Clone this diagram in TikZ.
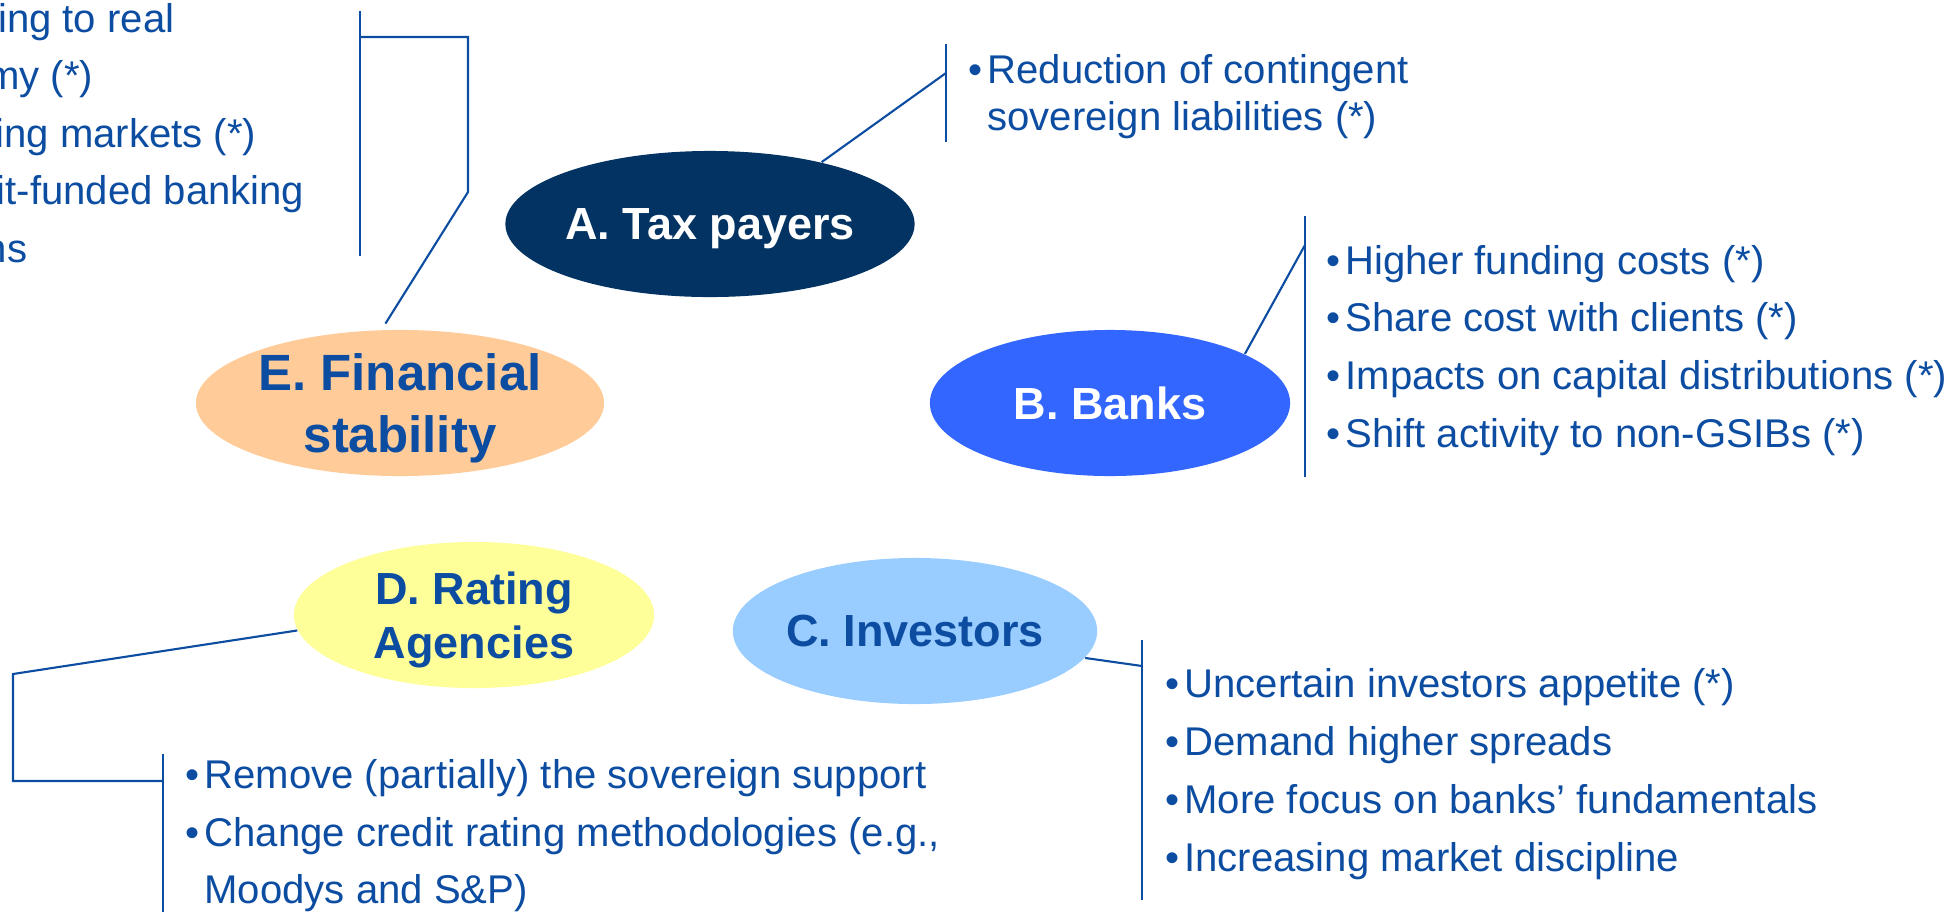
\documentclass[tikz,border=0pt]{standalone}
\usepackage{fontspec}
\setmainfont{Liberation Sans}
\usepackage{xcolor}
\usepackage{tikz}
\usetikzlibrary{shapes.geometric}
\definecolor{inkblue}{RGB}{12,77,162}
\definecolor{navy}{RGB}{3,51,99}
\definecolor{bankblue}{RGB}{51,102,255}
\definecolor{skyblue}{RGB}{153,204,255}
\definecolor{paleyellow}{RGB}{255,255,153}
\definecolor{peach}{RGB}{255,204,153}
\tikzset{actor/.style={ellipse,minimum width=3.6cm,minimum height=1.46cm,inner sep=0pt,text depth=0pt,align=center,text=inkblue,font=\fontsize{12.8}{15.4}\selectfont\bfseries},
	wide actor/.style={actor,minimum width=4.08cm},
	two lines/.style={text depth=-1.5pt},
	item/.style={anchor=base west,inner sep=0pt,text=inkblue,font=\fontsize{11.4}{13.7}\selectfont},
	bar/.style={draw=inkblue,line width=0.8pt},
	link/.style={draw=inkblue,line width=0.6pt}}
\newcommand{\bulletmark}{\textbullet\hspace{0.12em}}

\begin{document}
\begin{tikzpicture}[x=0.01cm,y=-0.01cm]
			\useasboundingbox (0,0) rectangle (1953,911);
			\node[wide actor,fill=navy,text=white] (A) at (710,224) {A. Tax payers};
			\node[actor,fill=bankblue,text=white] (B) at (1110,403) {B. Banks};
			\node[actor,fill=skyblue] (C) at (915,631) {C. Investors};
			\node[actor,two lines,fill=paleyellow] (D) at (474,615) {D. Rating\\Agencies};
			\node[wide actor,two lines,fill=peach,font=\fontsize{14.5}{17.6}\selectfont\bfseries] (E) at (400,403) {E. Financial\\stability};
			% bars beside the lists
			\coordinate (At) at (946,44); \coordinate (Ab) at (946,142); \coordinate (Aj) at (946,73);
			\coordinate (Bt) at (1305,216); \coordinate (Bb) at (1305,477); \coordinate (Bj) at (1305,245);
			\coordinate (Ct) at (1142,640); \coordinate (Cb) at (1142,900); \coordinate (Cj) at (1142,666);
			\coordinate (Dt) at (163,754); \coordinate (Db) at (163,915); \coordinate (Dj) at (163,781);
			\coordinate (Et) at (360,11); \coordinate (Eb) at (360,256); \coordinate (Ej) at (360,37);
			\foreach \s in {A,B,C,D,E} \draw[bar] (\s t) -- (\s b);
			\draw[link] (A.29) -- (Aj);
			\draw[link] (B.20) -- (Bj);
			\draw[link] (C.-9) -- (Cj);
			\draw[link] (D.185) -- (13,674) |- (Dj);
			\draw[link,shorten <=0.7mm] (E.104) -- (468,192) |- (Ej);
			% lists
			\node[item] (a0) at (968,83) {\bulletmark Reduction of contingent};
			\node[item] (a1) at (968,130) {\phantom{\bulletmark}sovereign liabilities (*)};
			\foreach \t [count=\i from 0] in {Higher funding costs (*),Share cost with clients (*),Impacts on capital distributions (*),Shift activity to non-GSIBs (*)}
				\node[item] (b\i) at (1326,274+57.7*\i) {\bulletmark\t};
			\foreach \t [count=\i from 0] in {Uncertain investors appetite (*),Demand higher spreads,More focus on banks’ fundamentals,Increasing market discipline}
				\node[item] (c\i) at (1165,697+58*\i) {\bulletmark\t};
			\node[item] (d0) at (185,788) {\bulletmark Remove (partially) the sovereign support};
			\node[item] (d1) at (185,846) {\bulletmark Change credit rating methodologies (e.g.,};
			\node[item] (d2) at (185,903) {\phantom{\bulletmark}Moodys and S\&P)};
			\foreach \t/\x [count=\i from 0] in {ing to real/175,my (*)/94,ing markets (*)/257,it-funded banking/305,ns/28}
				\node[item,anchor=base east] (e\i) at (\x,32+57.5*\i) {\t};
		\end{tikzpicture}
\end{document}
